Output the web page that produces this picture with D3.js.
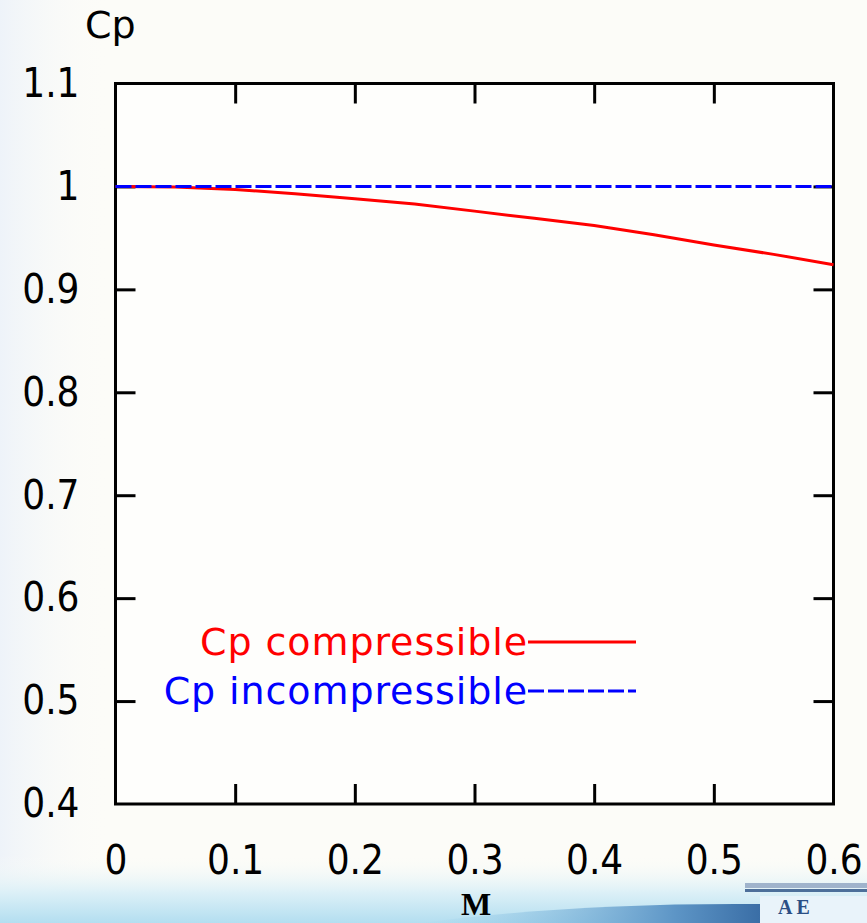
<!DOCTYPE html>
<html>
<head>
<meta charset="utf-8">
<script src="https://cdn.jsdelivr.net/npm/d3@7"></script>
<style>
  html, body { margin: 0; padding: 0; background: #fcfcf8; overflow: hidden; }
  svg { display: block; }
  .tick text { font-family: "DejaVu Sans Condensed", "DejaVu Sans", sans-serif; font-size: 40px; fill: #000; }
</style>
</head>
<body>
<div id="chart"></div>
<script>
// Mach number samples and the two pressure coefficient curves
const machValues = [0, 0.05, 0.1, 0.15, 0.2, 0.25, 0.3, 0.35, 0.4, 0.45, 0.5, 0.55, 0.6];
const cpCompressible = [1.0, 0.9995, 0.997, 0.993, 0.988, 0.983, 0.976, 0.969, 0.962, 0.953, 0.943, 0.934, 0.924];
const cpIncompressible = [1, 1, 1, 1, 1, 1, 1, 1, 1, 1, 1, 1, 1];

const xTicks = [0, 0.1, 0.2, 0.3, 0.4, 0.5, 0.6];
const yTicks = [0.4, 0.5, 0.6, 0.7, 0.8, 0.9, 1.0, 1.1];

const seriesNames = ["Cp compressible", "Cp incompressible"];
const seriesColors = ["#ff0000", "#0000ff"];

const width = 867;
const height = 923;
const margin = { top: 83.5, right: 33.5, bottom: 119, left: 115.5 };

const svg = d3.select("#chart").append("svg")
  .attr("width", width)
  .attr("height", height);

// --- slide background (faint blue edges, bluish band at the bottom) ---
const defs = svg.append("defs");
const bottomGrad = defs.append("linearGradient")
  .attr("id", "bottomGrad").attr("x1", 0).attr("y1", 0).attr("x2", 0).attr("y2", 1);
bottomGrad.append("stop").attr("offset", "0%").attr("stop-color", "#fcfcf8").attr("stop-opacity", 0);
bottomGrad.append("stop").attr("offset", "55%").attr("stop-color", "#dcf0f7");
bottomGrad.append("stop").attr("offset", "100%").attr("stop-color", "#b3def0");

const leftGrad = defs.append("linearGradient")
  .attr("id", "leftGrad").attr("x1", 0).attr("y1", 0).attr("x2", 1).attr("y2", 0);
leftGrad.append("stop").attr("offset", "0%").attr("stop-color", "#eef3f9");
leftGrad.append("stop").attr("offset", "100%").attr("stop-color", "#fcfcf8").attr("stop-opacity", 0);

const swooshGrad = defs.append("linearGradient")
  .attr("id", "swooshGrad").attr("x1", 0).attr("y1", 0).attr("x2", 1).attr("y2", 0);
swooshGrad.append("stop").attr("offset", "0%").attr("stop-color", "#8fcbea").attr("stop-opacity", 0);
swooshGrad.append("stop").attr("offset", "75%").attr("stop-color", "#5d95c6");
swooshGrad.append("stop").attr("offset", "100%").attr("stop-color", "#3a6ea6");

svg.append("rect").attr("width", width).attr("height", height).attr("fill", "#fcfcf8");
svg.append("rect").attr("width", 110).attr("height", height).attr("fill", "url(#leftGrad)");
svg.append("rect").attr("y", 855).attr("width", width).attr("height", 68).attr("fill", "url(#bottomGrad)");
svg.append("path")
  .attr("d", "M420,923 C520,910 630,903 760,904 L760,923 Z")
  .attr("fill", "url(#swooshGrad)");
svg.append("rect").attr("x", 745).attr("y", 883).attr("width", 122).attr("height", 5).attr("fill", "#9fb3cc");
svg.append("rect").attr("x", 745).attr("y", 889).attr("width", 122).attr("height", 3).attr("fill", "#4d6f9a");
svg.append("rect").attr("x", 760).attr("y", 896).attr("width", 107).attr("height", 27).attr("fill", "#e9f3fa");
svg.append("text")
  .attr("x", 778).attr("y", 914)
  .attr("font-family", "Liberation Serif, serif")
  .attr("font-weight", "bold")
  .attr("font-size", 20)
  .attr("letter-spacing", 4)
  .attr("fill", "#2b4f85")
  .text("AE");

// --- scales ---
const x = d3.scaleLinear().domain([0, 0.6]).range([margin.left, width - margin.right]);
const y = d3.scaleLinear().domain([0.4, 1.1]).range([height - margin.bottom, margin.top]);

svg.append("rect")
  .attr("x", x(0)).attr("y", y(1.1))
  .attr("width", x(0.6) - x(0)).attr("height", y(0.4) - y(1.1))
  .attr("fill", "#fefefc");

const fmt = d => String(+d.toFixed(1));

// ticks point inward on all four sides
const innerX = xTicks.slice(1, -1);
const innerY = yTicks.slice(1, -1);

svg.append("g")
  .attr("transform", `translate(0,${y(0.4)})`)
  .call(d3.axisBottom(x).tickValues(xTicks).tickFormat(fmt).tickSizeInner(-20).tickSizeOuter(0).tickPadding(42))
  .call(g => g.select(".domain").remove())
  .call(g => g.selectAll(".tick line").filter(d => !innerX.includes(d)).remove());

svg.append("g")
  .attr("transform", `translate(0,${y(1.1)})`)
  .call(d3.axisTop(x).tickValues(innerX).tickFormat("").tickSizeInner(-20).tickSizeOuter(0))
  .call(g => g.select(".domain").remove());

svg.append("g")
  .attr("transform", `translate(${x(0)},0)`)
  .call(d3.axisLeft(y).tickValues(yTicks).tickFormat(fmt).tickSizeInner(-20).tickSizeOuter(0).tickPadding(36))
  .call(g => g.select(".domain").remove())
  .call(g => g.selectAll(".tick line").filter(d => !innerY.includes(d)).remove());

svg.append("g")
  .attr("transform", `translate(${x(0.6)},0)`)
  .call(d3.axisRight(y).tickValues(innerY).tickFormat("").tickSizeInner(-20).tickSizeOuter(0))
  .call(g => g.select(".domain").remove());

svg.selectAll(".tick line").attr("stroke", "#000").attr("stroke-width", 3);

// frame
svg.append("rect")
  .attr("x", x(0)).attr("y", y(1.1))
  .attr("width", x(0.6) - x(0)).attr("height", y(0.4) - y(1.1))
  .attr("fill", "none")
  .attr("stroke", "#000")
  .attr("stroke-width", 3);

// --- curves ---
const line = d3.line().x(d => x(d[0])).y(d => y(d[1]));

svg.append("path")
  .datum(machValues.map((m, i) => [m, cpCompressible[i]]))
  .attr("d", line)
  .attr("fill", "none")
  .attr("stroke", seriesColors[0])
  .attr("stroke-width", 3);

svg.append("path")
  .datum(machValues.map((m, i) => [m, cpIncompressible[i]]))
  .attr("d", line)
  .attr("fill", "none")
  .attr("stroke", seriesColors[1])
  .attr("stroke-width", 3)
  .attr("stroke-dasharray", "16,4");

// --- legend ---
const legendY = [642, 691];
const legend = svg.append("g").selectAll("g")
  .data(seriesNames)
  .enter()
  .append("g")
  .attr("transform", (d, i) => `translate(528,${legendY[i]})`);

legend.append("line")
  .attr("x1", 0).attr("x2", 108)
  .attr("stroke", (d, i) => seriesColors[i])
  .attr("stroke-width", 3)
  .attr("stroke-dasharray", (d, i) => i === 1 ? "16,4" : null);

legend.append("text")
  .attr("x", 0).attr("y", 13)
  .attr("text-anchor", "end")
  .attr("font-family", "DejaVu Sans, sans-serif")
  .attr("font-size", 38)
  .attr("letter-spacing", 0.9)
  .attr("fill", (d, i) => seriesColors[i])
  .text(d => d);

// --- axis titles ---
svg.append("text")
  .attr("x", 85).attr("y", 38)
  .attr("font-family", "DejaVu Sans, sans-serif")
  .attr("font-size", 38)
  .text("Cp");

svg.append("text")
  .attr("x", 476).attr("y", 915)
  .attr("text-anchor", "middle")
  .attr("font-family", "Liberation Serif, serif")
  .attr("font-weight", "bold")
  .attr("font-size", 32)
  .text("M");
</script>
</body>
</html>
